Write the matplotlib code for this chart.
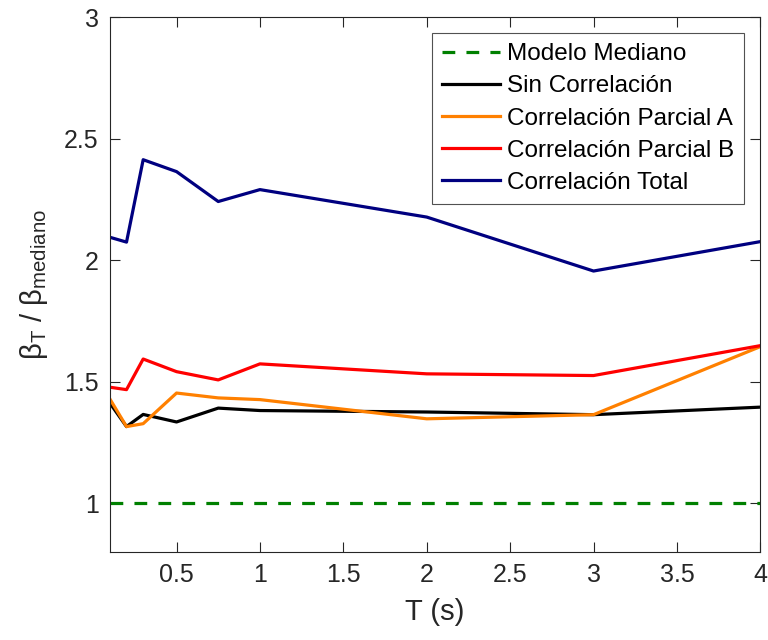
import matplotlib
matplotlib.use("Agg")
import matplotlib.pyplot as plt

T = [0.1, 0.2, 0.3, 0.5, 0.75, 1, 2, 3, 4]
modelo_mediano = [1, 1, 1, 1, 1, 1, 1, 1, 1]
sin_corr = [1.413, 1.316, 1.366, 1.335, 1.392, 1.382, 1.376, 1.365, 1.396]
parcial_a = [1.430, 1.316, 1.328, 1.454, 1.434, 1.427, 1.348, 1.365, 1.645]
parcial_b = [1.478, 1.468, 1.594, 1.542, 1.508, 1.574, 1.533, 1.526, 1.649]
total = [2.095, 2.075, 2.414, 2.365, 2.242, 2.291, 2.178, 1.956, 2.077]

xticks = [0.5, 1, 1.5, 2, 2.5, 3, 3.5, 4]
xtick_labels = ["0.5", "1", "1.5", "2", "2.5", "3", "3.5", "4"]
yticks = [1, 1.5, 2, 2.5, 3]
ytick_labels = ["1", "1.5", "2", "2.5", "3"]

plt.rcParams['font.family'] = ['Liberation Sans', 'DejaVu Sans']
plt.rcParams['mathtext.fontset'] = 'custom'
plt.rcParams['mathtext.rm'] = 'Liberation Sans'
plt.rcParams['mathtext.it'] = 'Liberation Sans'

fig = plt.figure(figsize=(7.68, 6.4), dpi=100)
ax = fig.add_axes([0.143, 0.1375, 0.847, 0.8355])

lw = 2.3
ax.plot(T, modelo_mediano, color='#008000', lw=lw, ls=(0, (4, 3.5)), label='Modelo Mediano')
ax.plot(T, sin_corr, color='black', lw=lw, label='Sin Correlación')
ax.plot(T, parcial_a, color='#FF8000', lw=lw, label='Correlación Parcial A')
ax.plot(T, parcial_b, color='#FF0000', lw=lw, label='Correlación Parcial B')
ax.plot(T, total, color='#000080', lw=lw, label='Correlación Total')

ax.set_xlim(0.1, 4)
ax.set_ylim(0.8, 3)
ax.set_xticks(xticks)
ax.set_xticklabels(xtick_labels, fontsize=18, color='#262626')
ax.set_yticks(yticks)
ax.set_yticklabels(ytick_labels, fontsize=18, color='#262626')
ax.tick_params(direction='in', length=7, width=0.8, top=True, right=True, colors='#262626',
               labelcolor='#262626', pad=8)
for s in ax.spines.values():
    s.set_color('#262626')
    s.set_linewidth(0.8)

ax.set_xlabel('T (s)', fontsize=21, color='#262626', labelpad=8)
ax.set_ylabel(r'$\mathregular{\beta_T}$ / $\mathregular{\beta_{mediano}}$', fontsize=21,
              color='#262626', labelpad=10)

leg = ax.legend(loc='upper right', bbox_to_anchor=(0.975, 0.970), fontsize=17.5,
                frameon=True, fancybox=False, edgecolor='#262626', handlelength=2.4,
                handletextpad=0.3, borderpad=0.4, labelspacing=0.42, borderaxespad=0)
leg.get_frame().set_linewidth(0.8)

fig.savefig('out.png', dpi=100)
